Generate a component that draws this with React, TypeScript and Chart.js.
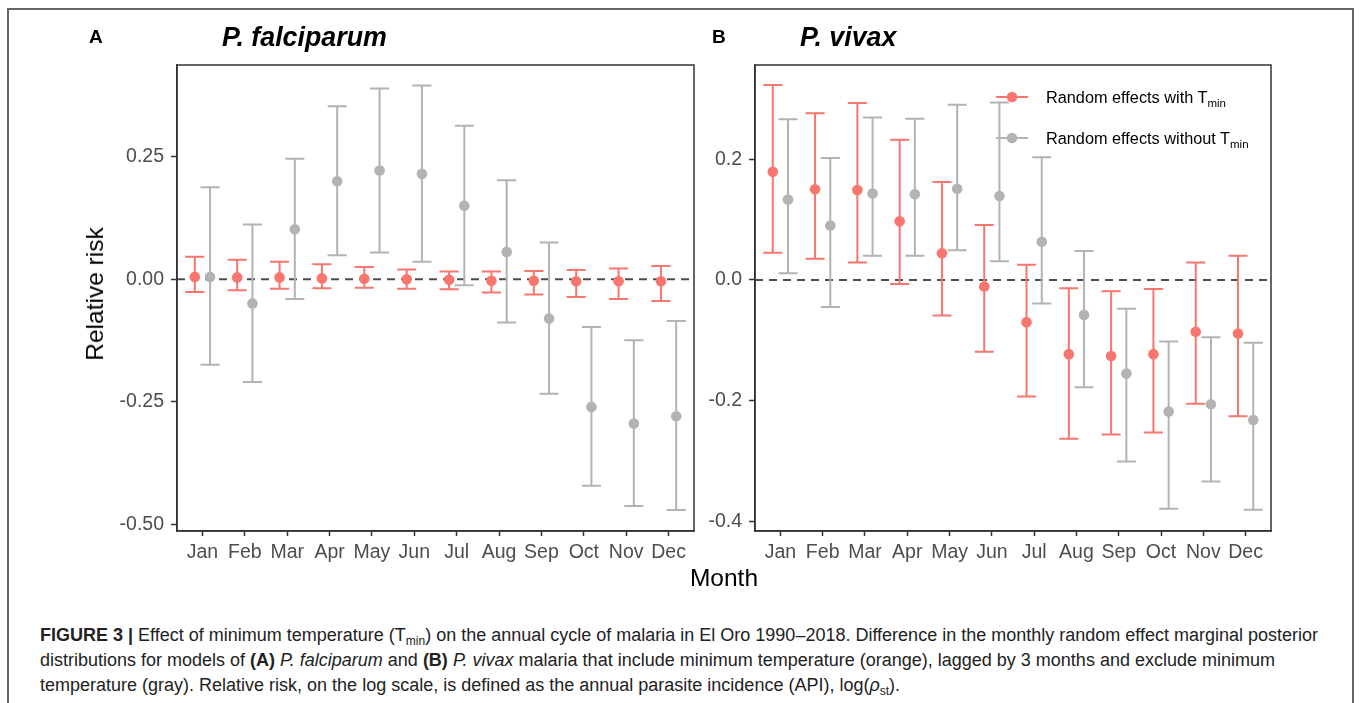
import React, { useEffect, useRef } from "react";
import { Chart, registerables } from "chart.js";

Chart.register(...registerables);

const months = ["Jan", "Feb", "Mar", "Apr", "May", "Jun", "Jul", "Aug", "Sep", "Oct", "Nov", "Dec"];

// P. falciparum
const falcWithMid = [0.005, 0.004, 0.004, 0.002, 0.001, 0.0, -0.001, -0.003, -0.003, -0.004, -0.004, -0.004];
const falcWithLow = [-0.026, -0.022, -0.019, -0.018, -0.017, -0.019, -0.02, -0.027, -0.031, -0.036, -0.04, -0.044];
const falcWithHigh = [0.046, 0.04, 0.036, 0.031, 0.025, 0.02, 0.016, 0.016, 0.017, 0.019, 0.022, 0.027];
const falcWithoutMid = [0.005, -0.049, 0.102, 0.2, 0.222, 0.215, 0.15, 0.056, -0.08, -0.26, -0.294, -0.279];
const falcWithoutLow = [-0.174, -0.209, -0.04, 0.049, 0.055, 0.036, -0.012, -0.088, -0.233, -0.421, -0.462, -0.47];
const falcWithoutHigh = [0.188, 0.112, 0.246, 0.353, 0.389, 0.395, 0.313, 0.202, 0.075, -0.097, -0.124, -0.085];

// P. vivax
const vivaxWithMid = [0.179, 0.15, 0.149, 0.097, 0.044, -0.011, -0.07, -0.123, -0.126, -0.123, -0.086, -0.089];
const vivaxWithLow = [0.045, 0.035, 0.029, -0.007, -0.059, -0.119, -0.193, -0.263, -0.256, -0.253, -0.205, -0.226];
const vivaxWithHigh = [0.323, 0.276, 0.293, 0.232, 0.162, 0.091, 0.025, -0.014, -0.019, -0.015, 0.029, 0.04];
const vivaxWithoutMid = [0.133, 0.09, 0.143, 0.142, 0.151, 0.139, 0.063, -0.058, -0.155, -0.218, -0.206, -0.232];
const vivaxWithoutLow = [0.011, -0.045, 0.04, 0.04, 0.049, 0.031, -0.039, -0.178, -0.301, -0.379, -0.334, -0.381];
const vivaxWithoutHigh = [0.266, 0.202, 0.269, 0.267, 0.29, 0.294, 0.203, 0.048, -0.048, -0.102, -0.095, -0.104];

const falcTicks = [-0.5, -0.25, 0, 0.25];
const vivaxTicks = [-0.4, -0.2, 0, 0.2];

const RED = "#F8766D";
const GRAY = "#B3B3B3";
const FONT = "'Liberation Sans', Arial, Helvetica, sans-serif";
const DODGE = 0.18;
const CAP_HALF = 0.225;

const errorBarPlugin = {
  id: "errorBars",
  beforeDatasetsDraw(chart: any) {
    const { ctx, chartArea, scales } = chart;
    const x = scales.x;
    const y = scales.y;
    ctx.save();
    // zero reference line
    const y0 = y.getPixelForValue(0);
    ctx.strokeStyle = "#4D4D4D";
    ctx.lineWidth = 2;
    ctx.setLineDash([8, 6]);
    ctx.beginPath();
    ctx.moveTo(chartArea.left, y0);
    ctx.lineTo(chartArea.right, y0);
    ctx.stroke();
    ctx.setLineDash([]);
    chart.data.datasets.forEach((ds: any) => {
      if (!ds.errLow) return;
      ctx.strokeStyle = ds.backgroundColor;
      ctx.lineWidth = 2;
      ds.data.forEach((pt: any, i: number) => {
        const px = x.getPixelForValue(pt.x);
        const pxl = x.getPixelForValue(pt.x - CAP_HALF);
        const pxr = x.getPixelForValue(pt.x + CAP_HALF);
        const pl = y.getPixelForValue(ds.errLow[i]);
        const ph = y.getPixelForValue(ds.errHigh[i]);
        ctx.beginPath();
        ctx.moveTo(px, pl);
        ctx.lineTo(px, ph);
        ctx.moveTo(pxl, pl);
        ctx.lineTo(pxr, pl);
        ctx.moveTo(pxl, ph);
        ctx.lineTo(pxr, ph);
        ctx.stroke();
      });
    });
    ctx.restore();
  },
  afterDatasetsDraw(chart: any) {
    const { ctx, chartArea } = chart;
    ctx.save();
    ctx.strokeStyle = "#333333";
    ctx.lineWidth = 1.5;
    ctx.strokeRect(chartArea.left, chartArea.top, chartArea.right - chartArea.left, chartArea.bottom - chartArea.top);
    ctx.restore();
  },
};

function Panel(props: {
  left: number;
  width: number;
  yWidth: number;
  padRight: number;
  yMin: number;
  yMax: number;
  ticks: number[];
  decimals: number;
  withMid: number[];
  withLow: number[];
  withHigh: number[];
  withoutMid: number[];
  withoutLow: number[];
  withoutHigh: number[];
}) {
  const ref = useRef<HTMLCanvasElement>(null);
  useEffect(() => {
    if (!ref.current) return;
    const chart = new Chart(ref.current, {
      type: "scatter",
      data: {
        datasets: [
          {
            label: "Random effects with Tmin",
            data: props.withMid.map((v, i) => ({ x: i - DODGE, y: v })),
            errLow: props.withLow,
            errHigh: props.withHigh,
            backgroundColor: RED,
            borderWidth: 0,
            pointRadius: 5.3,
          } as any,
          {
            label: "Random effects without Tmin",
            data: props.withoutMid.map((v, i) => ({ x: i + DODGE, y: v })),
            errLow: props.withoutLow,
            errHigh: props.withoutHigh,
            backgroundColor: GRAY,
            borderWidth: 0,
            pointRadius: 5.3,
          } as any,
        ],
      },
      options: {
        animation: false,
        responsive: false,
        layout: { padding: { top: 65, right: props.padRight, left: 0, bottom: 0 } },
        plugins: { legend: { display: false }, tooltip: { enabled: false } },
        scales: {
          x: {
            type: "linear",
            min: -0.6,
            max: 11.6,
            afterBuildTicks: (s: any) => {
              s.ticks = months.map((_, i) => ({ value: i }));
            },
            afterFit: (s: any) => {
              s.height = 600 - 531;
            },
            ticks: {
              callback: (v: any) => months[Math.round(v)],
              color: "#4D4D4D",
              font: { family: FONT, size: 19.5 },
              padding: 5,
              autoSkip: false,
              maxRotation: 0,
            },
            grid: { display: true, drawOnChartArea: false, drawTicks: true, tickLength: 5, tickColor: "#333333", tickWidth: 1.5 },
            border: { display: true, color: "#333333", width: 1.5 },
          },
          y: {
            type: "linear",
            min: props.yMin,
            max: props.yMax,
            afterBuildTicks: (s: any) => {
              s.ticks = props.ticks.map((v) => ({ value: v }));
            },
            afterFit: (s: any) => {
              s.width = props.yWidth;
            },
            ticks: {
              callback: (v: any) => Number(v).toFixed(props.decimals),
              color: "#4D4D4D",
              font: { family: FONT, size: 19.5 },
              padding: 7,
            },
            grid: { display: true, drawOnChartArea: false, drawTicks: true, tickLength: 6, tickColor: "#333333", tickWidth: 1.5 },
            border: { display: true, color: "#333333", width: 1.5 },
          },
        },
      } as any,
      plugins: [errorBarPlugin],
    });
    return () => chart.destroy();
  }, []);
  return (
    <canvas
      ref={ref}
      width={props.width}
      height={600}
      style={{ position: "absolute", left: props.left, top: 0, width: props.width, height: 600 }}
    />
  );
}

const abs = (l: number, t: number, extra: any = {}) => ({ position: "absolute" as const, left: l, top: t, ...extra });

const subStyle = { fontSize: 12, position: "relative" as const, top: 4, lineHeight: 0, verticalAlign: "baseline" };

function LegendItem(props: { top: number; color: string; label: string }) {
  return (
    <div style={abs(994, props.top, { display: "flex", alignItems: "center", height: 20 })}>
      <svg width={36} height={20} style={{ display: "block" }}>
        <line x1={2} y1={10} x2={34} y2={10} stroke={props.color} strokeWidth={2} />
        <circle cx={18} cy={10} r={5.3} fill={props.color} />
      </svg>
      <span style={{ marginLeft: 16, fontFamily: FONT, fontSize: 16.3, color: "#000", whiteSpace: "nowrap" }}>
        {props.label}
        <span style={{ fontSize: 11.5, position: "relative", top: 4 }}>min</span>
      </span>
    </div>
  );
}

export default function App() {
  const cap = { fontFamily: FONT, fontSize: 18, color: "#222", whiteSpace: "nowrap" as const, lineHeight: "25px" };
  return (
    <div style={{ position: "fixed", left: 0, top: 0, width: 1360, height: 703, background: "#fff", overflow: "hidden" }}>
      <div style={abs(7, 8, { width: 1347, height: 720, border: "2px solid #666", boxSizing: "border-box" })} />
      <Panel
        left={0}
        width={700}
        yWidth={177}
        padRight={6}
        yMin={-0.513}
        yMax={0.437}
        ticks={falcTicks}
        decimals={2}
        withMid={falcWithMid}
        withLow={falcWithLow}
        withHigh={falcWithHigh}
        withoutMid={falcWithoutMid}
        withoutLow={falcWithoutLow}
        withoutHigh={falcWithoutHigh}
      />
      <Panel
        left={680}
        width={600}
        yWidth={75}
        padRight={9}
        yMin={-0.416}
        yMax={0.356}
        ticks={vivaxTicks}
        decimals={1}
        withMid={vivaxWithMid}
        withLow={vivaxWithLow}
        withHigh={vivaxWithHigh}
        withoutMid={vivaxWithoutMid}
        withoutLow={vivaxWithoutLow}
        withoutHigh={vivaxWithoutHigh}
      />
      <div style={abs(89, 25, { fontFamily: FONT, fontWeight: "bold", fontSize: 19, lineHeight: "24px" })}>A</div>
      <div style={abs(222, 20, { fontFamily: FONT, fontWeight: "bold", fontStyle: "italic", fontSize: 26.8, lineHeight: "34px" })}>
        P. falciparum
      </div>
      <div style={abs(712, 25, { fontFamily: FONT, fontWeight: "bold", fontSize: 19, lineHeight: "24px" })}>B</div>
      <div style={abs(800, 20, { fontFamily: FONT, fontWeight: "bold", fontStyle: "italic", fontSize: 26.8, lineHeight: "34px" })}>
        P. vivax
      </div>
      <div
        style={abs(95, 294, {
          fontFamily: FONT,
          fontSize: 24.5,
          whiteSpace: "nowrap",
          transform: "translate(-50%, -50%) rotate(-90deg)",
          lineHeight: "30px",
        })}
      >
        Relative risk
      </div>
      <div style={abs(724, 578, { fontFamily: FONT, fontSize: 24.5, whiteSpace: "nowrap", transform: "translate(-50%, -50%)", lineHeight: "30px" })}>
        Month
      </div>
      <LegendItem top={87} color={RED} label="Random effects with T" />
      <LegendItem top={128} color={GRAY} label="Random effects without T" />
      <div style={abs(40, 623, cap)}>
        <b>FIGURE 3 |</b> Effect of minimum temperature (T<span style={subStyle}>min</span>) on the annual cycle of malaria in El Oro
        1990–2018. Difference in the monthly random effect marginal posterior
        <br />
        distributions for models of <b>(A)</b> <i>P. falciparum</i> and <b>(B)</b> <i>P. vivax</i> malaria that include minimum temperature
        (orange), lagged by 3 months and exclude minimum
        <br />
        temperature (gray). Relative risk, on the log scale, is defined as the annual parasite incidence (API), log(
        <i>ρ</i>
        <span style={subStyle}>st</span>).
      </div>
    </div>
  );
}
